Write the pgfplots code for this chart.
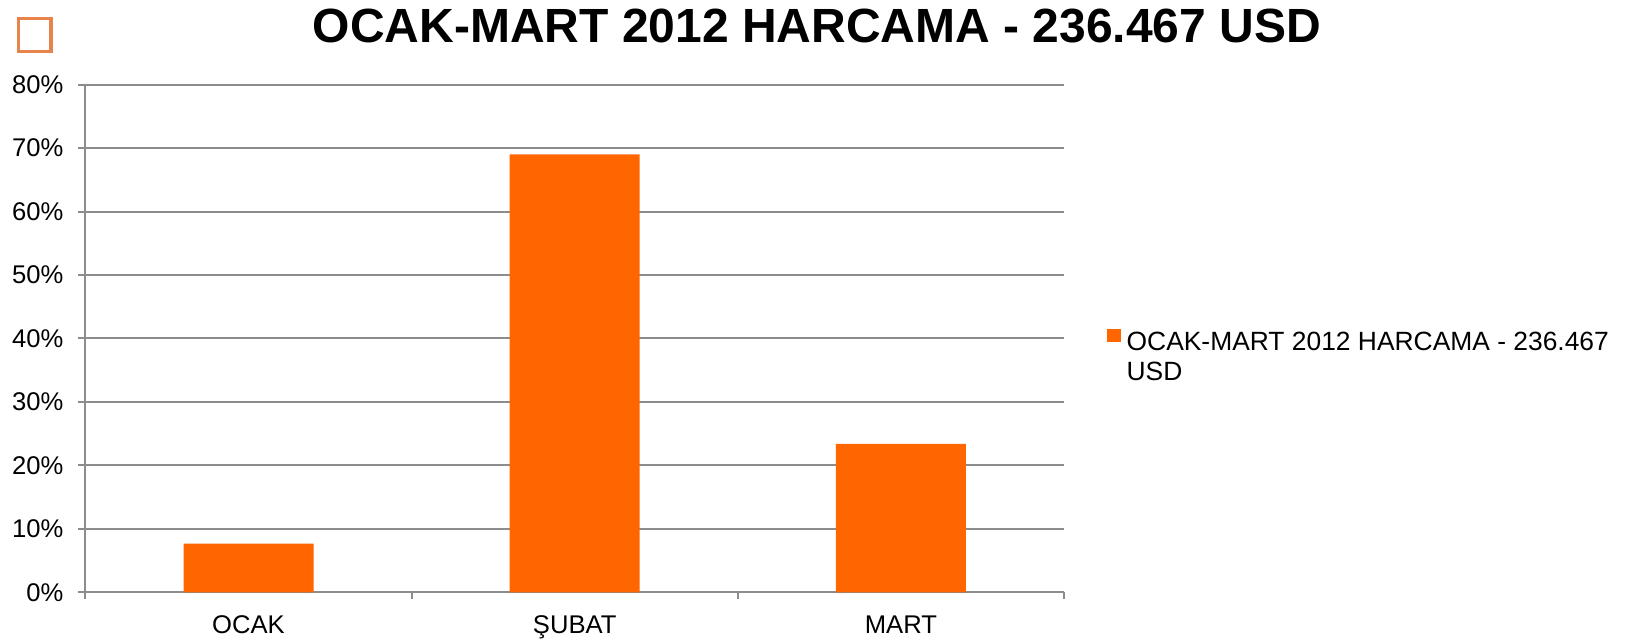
\documentclass[border=0pt]{standalone}
\usepackage{fontspec}
\setmainfont{Liberation Sans}
\usepackage{pgfplots}
\pgfplotsset{compat=1.18}
\definecolor{barorange}{RGB}{255,102,0}
\definecolor{gridgray}{RGB}{140,140,140}
\definecolor{boxorange}{RGB}{232,131,75}

\begin{document}
\begin{tikzpicture}
\useasboundingbox (0pt,0pt) rectangle (816.5pt,320.5pt);
% little outlined square, top left
\draw[boxorange, line width=1.6pt] (9.25pt,311.25pt) rectangle (25.5pt,294.75pt);
\node[font=\bfseries\fontsize{24}{28}\selectfont] at (408.5pt,307.5pt)
  {OCAK-MART 2012 HARCAMA - 236.467 USD};
\begin{axis}[
    at={(42.7pt,24.25pt)}, anchor=south west,
    scale only axis,
    width=489.3pt, height=254pt,
    ybar, bar width=65pt,
    xmin=-0.5, xmax=2.5,
    ymin=0, ymax=80,
    xtick={0,1,2},
    xticklabels={OCAK,ŞUBAT,MART},
    minor xtick={-0.5,0.5,1.5,2.5},
    ytick={0,10,20,30,40,50,60,70,80},
    yticklabel={\pgfmathprintnumber{\tick}\%},
    /pgf/number format/assume math mode=true,
    axis x line*=bottom, axis y line*=left,
    axis line style={gridgray, line width=1pt},
    ymajorgrids, major grid style={gridgray, line width=1pt},
    tick align=outside,
    major tick length=3.5pt, minor tick length=3.5pt,
    major x tick style={draw=none},
    tick style={gridgray, line width=1pt},
    ticklabel style={font=\fontsize{12.8}{15}\selectfont, text=black},
    yticklabel style={xshift=-4pt},
    xticklabel style={yshift=-4.5pt},
    legend style={at={(1.044,0.52)}, anchor=north west, draw=none,
        inner sep=0pt, column sep=3pt,
        nodes={inner sep=0pt}, font=\fontsize{13.2}{15}\selectfont},
    legend cell align=left,
    legend image code/.code={\fill[barorange] (0pt,0pt) rectangle (6.6pt,6.6pt);},
]
\addplot[draw=none, fill=barorange] coordinates {(0,7.7) (1,69.0) (2,23.4)};
\addlegendentry{\begin{tabular}[t]{@{}l@{}}OCAK-MART 2012 HARCAMA - 236.467\\USD\end{tabular}}
\end{axis}
\end{tikzpicture}
\end{document}
